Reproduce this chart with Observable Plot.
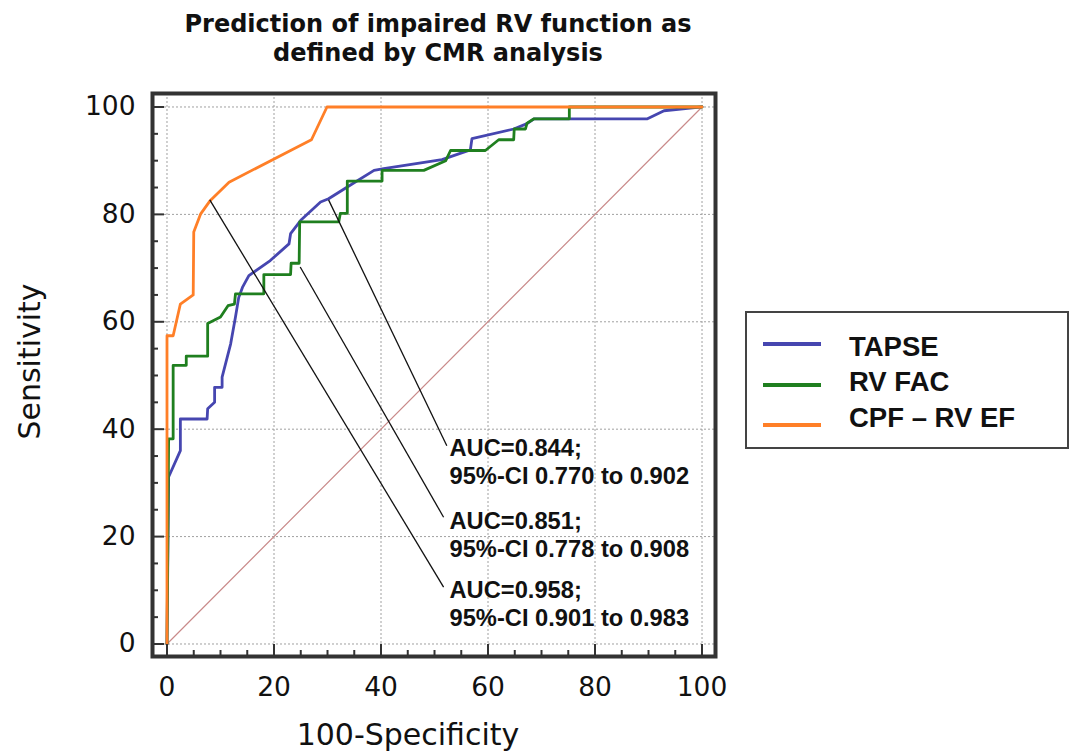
<!DOCTYPE html>
<html>
<head>
<meta charset="utf-8">
<script src="https://cdn.jsdelivr.net/npm/d3@7"></script>
<script src="https://cdn.jsdelivr.net/npm/@observablehq/plot@0.6"></script>
<style>
  html, body { margin: 0; padding: 0; background: #fff; }
  #wrap { position: relative; width: 1071px; height: 753px; font-family: "Liberation Sans", Arial, sans-serif; color: #111; }
  .title { position: absolute; left: 138px; width: 600px; text-align: center; font-family: "DejaVu Sans", Verdana, sans-serif; font-weight: bold; font-size: 24px; line-height: 24px; white-space: nowrap; }
  #chart { position: absolute; left: 0; top: 0; }
  .axt { position: absolute; width: 400px; text-align: center; font-family: "DejaVu Sans", Verdana, sans-serif; font-size: 30px; line-height: 31px; white-space: nowrap; }
  #legend { position: absolute; left: 745px; top: 311px; width: 320px; height: 134px; border: 2px solid #444; box-sizing: content-box; }
  .sw { position: absolute; left: 16px; width: 58px; height: 4px; }
  .lt { position: absolute; left: 102px; font-weight: bold; font-size: 27.5px; line-height: 28px; white-space: nowrap; }
</style>
</head>
<body>
<div id="wrap">
  <div id="chart"></div>
  <div class="title" id="t1" style="top:12px;"></div>
  <div class="title" id="t2" style="top:41px;"></div>
  <div class="axt" id="xl" style="left:208px; top:719px;"></div>
  <div class="axt" id="yl" style="left:-171px; top:346px; transform: rotate(-90deg); transform-origin: 200px 15.5px;"></div>
  <div id="legend"></div>
</div>
<script>
// ---- data ----
const titleLines = ["Prediction of impaired RV function as", "defined by CMR analysis"];
const xLabel = "100-Specificity";
const yLabel = "Sensitivity";
const tickMajor = [0, 20, 40, 60, 80, 100];
const tickMinor = [5, 10, 15, 25, 30, 35, 45, 50, 55, 65, 70, 75, 85, 90, 95];

const seriesNames = ["TAPSE", "RV FAC", "CPF \u2013 RV EF"];
const seriesColors = ["#4646b0", "#1f7f1f", "#ff7f27"];

const tapseX = [0, 0.3, 2.5, 2.5, 7.5, 7.6, 8.9, 8.9, 10.3, 10.3, 11.9, 12.8, 13.4, 14.1, 15.3, 19.3, 22.8, 23.1, 25.0, 28.7, 30.2, 33.7, 38.7, 40.5, 51.4, 56.7, 57.0, 64.8, 67.3, 68.6, 89.8, 92.9, 100];
const tapseY = [0, 31.1, 36.0, 41.9, 41.9, 43.8, 45.0, 47.8, 47.8, 49.7, 55.9, 60.9, 64.5, 66.4, 68.6, 71.4, 74.5, 76.4, 78.9, 82.3, 82.9, 85.1, 88.2, 88.5, 90.2, 92.0, 94.1, 95.9, 96.9, 97.8, 97.8, 99.3, 100];

const facX = [0, 0.3, 1.15, 1.15, 3.6, 3.6, 7.6, 7.6, 10.0, 11.4, 12.6, 12.8, 18.1, 18.1, 23.1, 23.2, 24.7, 24.8, 32.1, 32.4, 33.7, 33.7, 40.2, 40.2, 48.0, 52.1, 53.0, 59.5, 62.0, 64.8, 64.9, 67.0, 67.3, 68.6, 75.2, 75.2, 100];
const facY = [0, 38.2, 38.2, 51.9, 51.9, 53.6, 53.6, 59.7, 60.9, 63.0, 63.3, 65.2, 65.2, 68.8, 68.8, 70.9, 70.9, 78.6, 78.6, 80.2, 80.2, 86.2, 86.2, 88.2, 88.2, 90.0, 91.9, 91.9, 93.9, 93.9, 95.9, 95.9, 97.0, 97.8, 97.8, 100, 100];

const cpfX = [0, 0, 1.15, 2.5, 4.9, 5.0, 6.3, 8.1, 11.6, 23.1, 27.0, 29.9, 100];
const cpfY = [0, 57.4, 57.4, 63.3, 65.0, 76.7, 80.1, 82.6, 86.0, 91.9, 93.9, 100, 100];

const chanceX = [0, 100];
const chanceY = [0, 100];

// annotations: leader line start (on curve) and end (at label), label text
const annFromX = [30.2, 24.9, 8.0];
const annFromY = [82.7, 70.2, 82.7];
const annToX = [52.3, 51.7, 51.7];
const annToY = [36.9, 23.6, 10.6];
const annTextX = [52.8, 52.8, 52.8];
const annTextY = [38.8, 25.2, 12.4];
const annText = [
  "AUC=0.844;\n95%-CI 0.770 to 0.902",
  "AUC=0.851;\n95%-CI 0.778 to 0.908",
  "AUC=0.958;\n95%-CI 0.901 to 0.983"
];

// ---- build ----
const toPts = (xs, ys) => xs.map((x, i) => ({x, y: ys[i]}));
const tapse = toPts(tapseX, tapseY);
const fac = toPts(facX, facY);
const cpf = toPts(cpfX, cpfY);
const chance = toPts(chanceX, chanceY);
const links = annFromX.map((x, i) => ({x1: x, y1: annFromY[i], x2: annToX[i], y2: annToY[i]}));
const labels = annText.map((t, i) => ({x: annTextX[i], y: annTextY[i], t}));

const axisStyle = {stroke: "#333", strokeWidth: 2, label: null};
const tickFont = {fontSize: 26.5, fontFamily: "'DejaVu Sans', Verdana, sans-serif"};

const chart = Plot.plot({
  width: 730,
  height: 753,
  marginLeft: 152,
  marginRight: 15,
  marginTop: 93,
  marginBottom: 97,
  x: {domain: [-2.71, 102.52]},
  y: {domain: [-2.33, 102.51]},
  style: {fontFamily: "'Liberation Sans', Arial, sans-serif", color: "#111", background: "transparent", overflow: "visible"},
  marks: [
    Plot.gridX(tickMajor, {stroke: "#a0a0a0", strokeOpacity: 1, strokeDasharray: "2,2", strokeWidth: 1}),
    Plot.gridY(tickMajor, {stroke: "#a0a0a0", strokeOpacity: 1, strokeDasharray: "2,2", strokeWidth: 1}),
    Plot.line(chance, {x: "x", y: "y", stroke: "#c98a8a", strokeWidth: 1.2}),
    Plot.line(tapse, {x: "x", y: "y", stroke: seriesColors[0], strokeWidth: 2.8}),
    Plot.line(fac, {x: "x", y: "y", stroke: seriesColors[1], strokeWidth: 2.8}),
    Plot.line(cpf, {x: "x", y: "y", stroke: seriesColors[2], strokeWidth: 2.8}),
    Plot.link(links, {x1: "x1", y1: "y1", x2: "x2", y2: "y2", stroke: "#111", strokeWidth: 1.3}),
    Plot.text(labels, {x: "x", y: "y", text: "t", textAnchor: "start", lineAnchor: "top", lineHeight: 1.2, fontSize: 23.7, fontWeight: "bold", fill: "#111"}),
    Plot.axisX(tickMajor, {anchor: "bottom", tickSize: -12, tickPadding: 33, ...tickFont, ...axisStyle}),
    Plot.axisX(tickMinor, {anchor: "bottom", tickSize: -6, tickFormat: () => "", ...axisStyle}),
    Plot.axisY(tickMajor, {anchor: "left", tickSize: -12, tickPadding: 29, ...tickFont, ...axisStyle}),
    Plot.axisY(tickMinor, {anchor: "left", tickSize: -6, tickFormat: () => "", ...axisStyle}),
    Plot.frame({stroke: "#333", strokeWidth: 4})
  ]
});
document.getElementById("chart").appendChild(chart);

document.getElementById("t1").textContent = titleLines[0];
document.getElementById("t2").textContent = titleLines[1];
document.getElementById("xl").textContent = xLabel;
document.getElementById("yl").textContent = yLabel;

const legend = document.getElementById("legend");
const swTop = [29, 70, 110];
const txTop = [20, 55, 91];
seriesNames.forEach((name, i) => {
  const sw = document.createElement("div");
  sw.className = "sw";
  sw.style.top = swTop[i] + "px";
  sw.style.background = seriesColors[i];
  legend.appendChild(sw);
  const tx = document.createElement("div");
  tx.className = "lt";
  tx.style.top = txTop[i] + "px";
  tx.textContent = name;
  legend.appendChild(tx);
});
</script>
</body>
</html>
